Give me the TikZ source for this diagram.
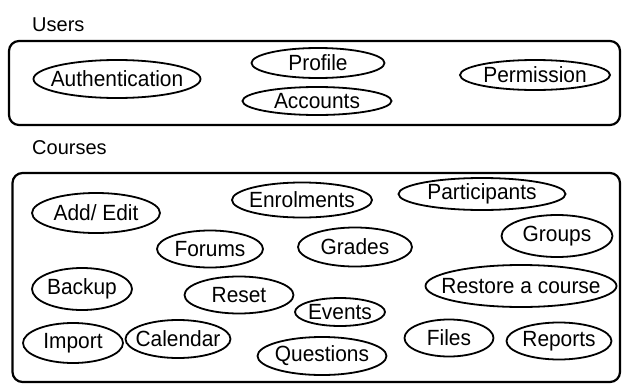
\documentclass[tikz,border=0pt]{standalone}
\usepackage{fontspec}
\setmainfont{Liberation Sans}
\newfontfamily\itemfont[FakeStretch=0.95]{Liberation Sans}
\usetikzlibrary{shapes.geometric}

\begin{document}
\begin{tikzpicture}[x=1pt, y=-1pt, font=\fontsize{20}{24}\selectfont,
  item/.style={draw, ellipse, line width=1.8pt, inner sep=0pt},
  every label/.style={font=\itemfont\fontsize{22}{26}\selectfont},
  group/.style={draw, line width=2.2pt, rounded corners=10pt}]
\useasboundingbox (0,0) rectangle (622,386);

% Users
\node[anchor=west, inner sep=0pt] (userstitle) at (32,25) {Users};
\draw[group] (9,41) rectangle (620,125);
\node[item, minimum width=167, minimum height=38, label={center:Authentication}] (auth) at (117,79) {};
\node[item, minimum width=133, minimum height=30, label={center:Profile}] (profile) at (318,63) {};
\node[item, minimum width=149, minimum height=28, label={center:Accounts}] (accounts) at (317,101) {};
\node[item, minimum width=150, minimum height=30, label={center:Permission}] (permission) at (535,75) {};

% Courses
\node[anchor=west, inner sep=0pt] (coursestitle) at (32,148) {Courses};
\draw[group] (12.5,173) rectangle (620,382);
\node[item, minimum width=128, minimum height=40, label={center:Add/ Edit}] (addedit) at (96,213) {};
\node[item, minimum width=140, minimum height=35, label={center:Enrolments}] (enrol) at (302,200) {};
\node[item, minimum width=167, minimum height=32, label={center:Participants}] (particip) at (482,194) {};
\node[item, minimum width=106, minimum height=37, label={center:Forums}] (forums) at (210,249) {};
\node[item, minimum width=114, minimum height=39, label={center:Grades}] (grades) at (355,247) {};
\node[item, minimum width=111, minimum height=42, label={center:Groups}] (groups) at (557,236) {};
\node[item, minimum width=100, minimum height=42, label={center:Backup}] (backup) at (82,289) {};
\node[item, minimum width=109, minimum height=37, label={center:Reset}] (reset) at (239,295) {};
\node[item, minimum width=90, minimum height=28, label={center:Events}] (events) at (340,312) {};
\node[item, minimum width=191, minimum height=42, label={center:Restore a course}] (restore) at (521,286) {};
\node[item, minimum width=100, minimum height=40, label={center:Import}] (import) at (73,343) {};
\node[item, minimum width=105, minimum height=38, label={center:Calendar}] (calendar) at (178,339) {};
\node[item, minimum width=129, minimum height=38, label={center:Questions}] (questions) at (322,356) {};
\node[item, minimum width=89, minimum height=37, label={center:Files}] (files) at (449,338) {};
\node[item, minimum width=105, minimum height=37, label={center:Reports}] (reports) at (559,341) {};
\end{tikzpicture}
\end{document}
